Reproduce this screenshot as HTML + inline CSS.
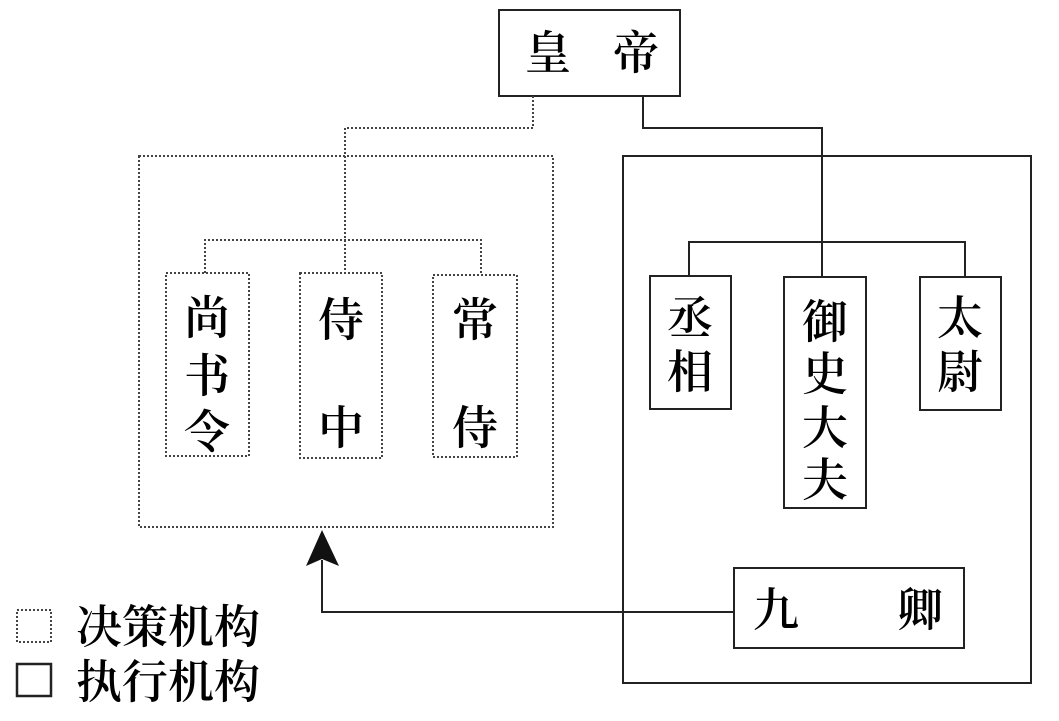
<!DOCTYPE html>
<html><head><meta charset="utf-8"><style>
html,body{margin:0;padding:0;background:#fff;}
svg{display:block}
text{font-family:"Liberation Serif","Noto Serif CJK SC","Noto Sans CJK SC",serif;fill:#000;font-weight:600;}
</style></head><body>
<svg width="1059" height="721" viewBox="0 0 1059 721" xmlns="http://www.w3.org/2000/svg">
<g fill="none" stroke="#222" stroke-width="2">
<rect x="499" y="10" width="181" height="86"/>
<polyline points="643,96 643,128 822,128 822,277"/>
<polyline points="689,276 689,242 965,242 965,277"/>
<rect x="623" y="156" width="408" height="527"/>
<rect x="650" y="276" width="81" height="133"/>
<rect x="784" y="277" width="82" height="231"/>
<rect x="920" y="277" width="81" height="133"/>
<rect x="734" y="568" width="230" height="80"/>
<polyline points="734,612 322,612 322,560"/>
<rect x="17" y="664" width="34" height="32" stroke-width="2.5"/>
</g>
<polygon points="322,530 306,566 322,559 339,566" fill="#111"/>
<g fill="none" stroke="#444" stroke-width="2" stroke-dasharray="2,2">
<polyline points="533,96 533,128 345,128 345,273"/>
<polyline points="205,273 205,240 481,240 481,275"/>
<rect x="139" y="156" width="414" height="371"/>
<rect x="166" y="273" width="83" height="183"/>
<rect x="300" y="273" width="82" height="185"/>
<rect x="433" y="275" width="84" height="182"/>
<rect x="17" y="610" width="34" height="32"/>
</g>
<g font-size="46" text-anchor="middle">
<text x="548" y="69">皇</text><text x="636" y="69">帝</text>
<text x="207" y="334">尚</text><text x="207" y="392">书</text><text x="207" y="448">令</text>
<text x="341" y="336">侍</text><text x="341" y="444">中</text>
<text x="475" y="336">常</text><text x="475" y="444">侍</text>
<text x="690" y="334">丞</text><text x="690" y="388">相</text>
<text x="825" y="338">御</text><text x="825" y="390">史</text><text x="825" y="444">大</text><text x="825" y="496">夫</text>
<text x="960" y="334">太</text><text x="960" y="388">尉</text>
<text x="776" y="626">九</text><text x="920" y="626">卿</text>
</g>
<g font-size="46">
<text x="76" y="643">决策机构</text>
<text x="76" y="698">执行机构</text>
</g>
</svg>
</body></html>
